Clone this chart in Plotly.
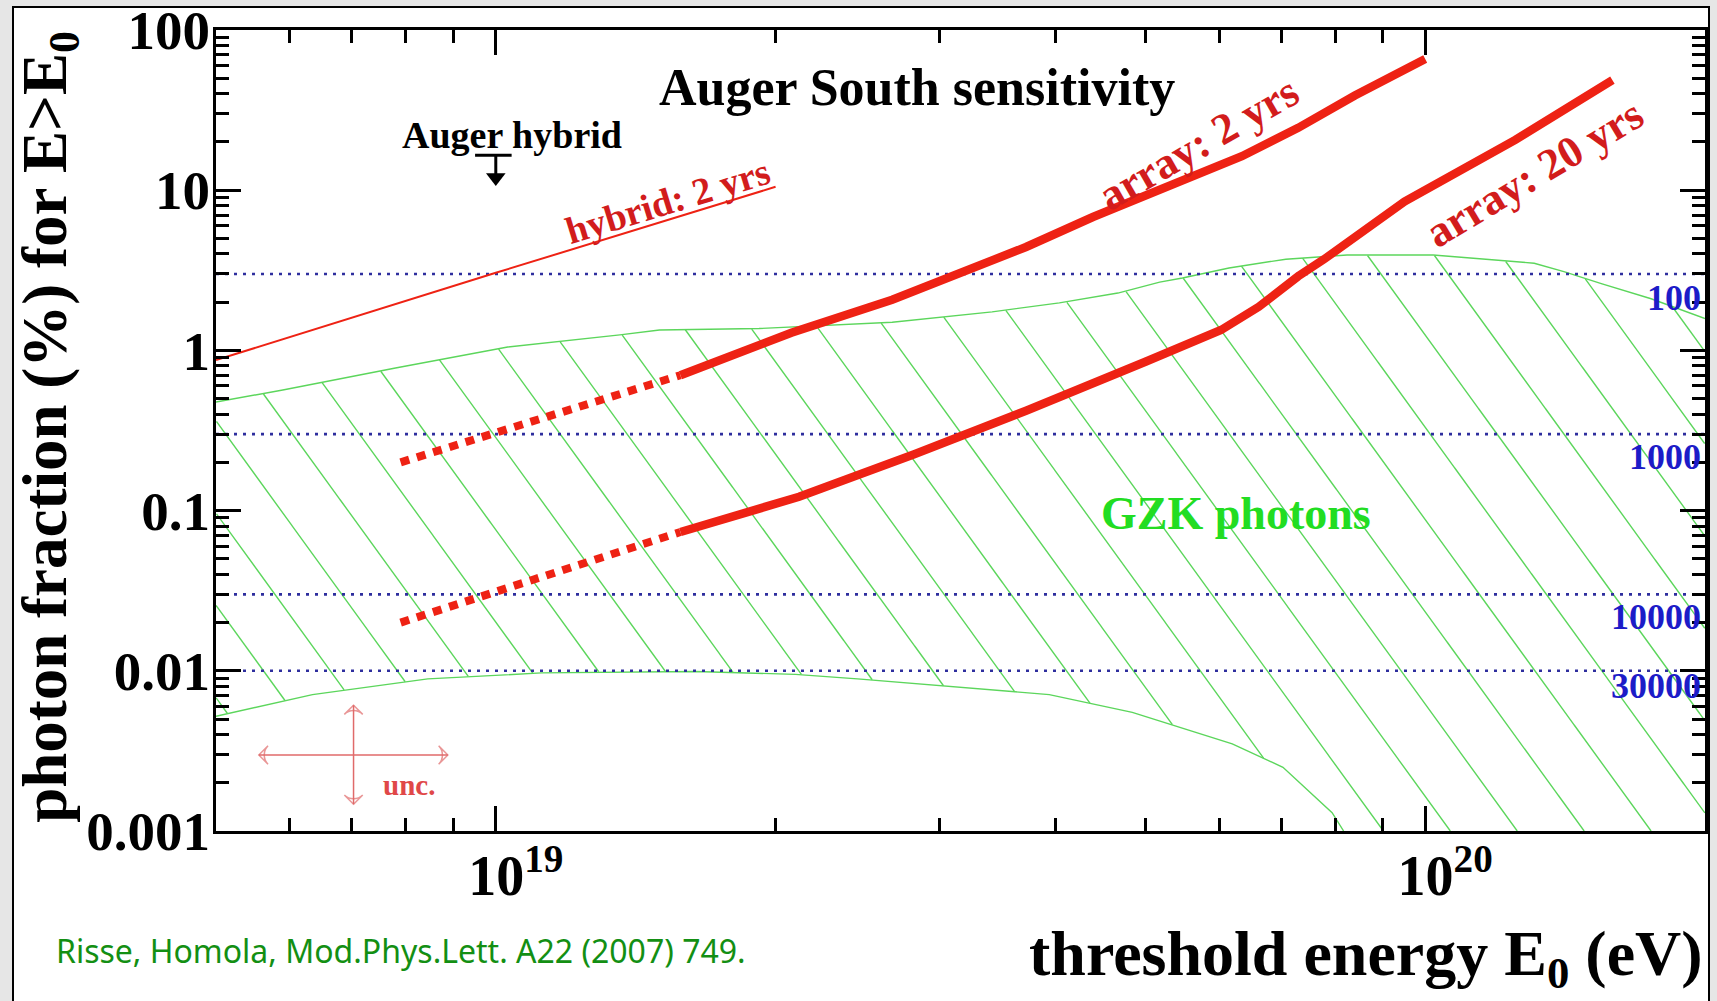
import numpy as np
import plotly.graph_objects as go

# ---------------- data ----------------
E_RANGE = [5e18, 2e20]          # threshold energy (eV)
F_RANGE = [1e-3, 1e2]           # photon fraction (%)

x_major = [1e19, 1e20]
x_major_text = ["10<sup>19</sup>", "10<sup>20</sup>"]
x_minor = [6e18, 7e18, 8e18, 9e18] + [k * 1e19 for k in range(2, 10)]
y_major = [1e-3, 1e-2, 1e-1, 1, 10, 100]
y_major_text = ["0.001", "0.01", "0.1", "1", "10", "100"]
y_minor = [k * 10.0 ** d for d in range(-3, 2) for k in range(2, 10)]

# hybrid: 2 yrs (thin red)
hyb_E = [5e18, 1e19, 2e19]
hyb_F = [0.87, 3.05, 10.5]

# array: 2 yrs
arr2_dot_E = [7.9e18, 1.58e19]
arr2_dot_F = [0.20, 0.70]
arr2_E = [1.58e19, 2.08e19, 2.67e19, 3.15e19, 3.72e19, 4.39e19, 5.45e19, 6.35e19,
          7.3e19, 8.4e19, 1.0e20]
arr2_F = [0.70, 1.29, 2.07, 3.04, 4.42, 6.8, 11.2, 16.3, 24.5, 39, 66]

# array: 20 yrs
arr20_dot_E = [7.9e18, 1.58e19]
arr20_dot_F = [0.020, 0.0735]
arr20_E = [1.58e19, 2.12e19, 2.82e19, 3.72e19, 5.0e19, 6.03e19, 6.62e19, 7.3e19, 7.78e19,
           9.5e19, 1.25e20, 1.59e20]
arr20_F = [0.0735, 0.122, 0.225, 0.42, 0.85, 1.34, 1.87, 2.9, 3.7, 8.5, 20.6, 48.7]

# GZK photon band
gzk_up_E = [5e18, 5.9e18, 7.8e18, 1.03e19, 1.36e19, 1.5e19, 1.92e19, 2.67e19, 3.42e19,
            4.04e19, 4.67e19, 5.18e19, 5.48e19, 6.15e19, 7.08e19, 8.24e19, 1.02e20,
            1.31e20, 1.41e20, 1.55e20, 1.75e20, 2e20]
gzk_up_F = [0.476, 0.566, 0.776, 1.05, 1.25, 1.34, 1.37, 1.50, 1.74, 1.98, 2.28, 2.67,
            2.83, 3.27, 3.71, 3.94, 3.94, 3.5, 3.1, 2.6, 2.1, 1.58]
gzk_lo_E = [5e18, 6.35e18, 8.45e18, 1.12e19, 1.64e19, 2.1e19, 2.45e19, 3.22e19, 3.94e19,
            4.84e19, 6.2e19, 7.03e19, 7.94e19, 8.17e19]
gzk_lo_F = [0.0052, 0.0071, 0.0089, 0.0097, 0.0099, 0.0095, 0.0089, 0.0078, 0.0071,
            0.0055, 0.0035, 0.0025, 0.0013, 0.001]

# reference levels (number of events)
ref_levels = [3, 0.3, 0.03, 0.01]
ref_labels = ["100", "1000", "10000", "30000"]

# Auger hybrid upper limit
hyb_lim_E = 1e19
hyb_lim_F = 16.5
hyb_lim_head = 12.0
hyb_lim_bar_E = [9.5e18, 1.04e19]

# uncertainty cross
unc_E = 7.03e18
unc_F = 0.00298
unc_E_span = [5.56e18, 8.88e18]
unc_F_span = [0.00147, 0.0061]

# ---------------- styling ----------------
SERIF = "Liberation Serif"
RED = "#ee2214"
TXTRED = "#d21c1c"
GREEN = "#5cd65c"
BLUE = "#2e2e9e"
UNC_COL = "#e06a6a"

fig = go.Figure()

# --- GZK hatch (computed from the band boundaries) ---
HATCH_SLOPE = -8.0     # decades of F per decade of E (pixel angle ~54 deg)
HATCH_STEP = 0.072     # decades of E between hatch lines
HATCH_PHASE = 19.955   # log10 E where one line meets the bottom axis
lx_up, ly_up = np.log10(gzk_up_E), np.log10(gzk_up_F)
lx_lo, ly_lo = np.log10(gzk_lo_E), np.log10(gzk_lo_F)
xmin, xmax = np.log10(E_RANGE)
ymin = np.log10(F_RANGE[0])
reach = (ly_up.max() - ymin) / (-HATCH_SLOPE)
hx, hy = [], []
kmin = int(np.floor((xmin - HATCH_PHASE) / HATCH_STEP)) - 1
kmax = int(np.ceil((xmax + reach - HATCH_PHASE) / HATCH_STEP)) + 1
for k in range(kmin, kmax + 1):
    xb = HATCH_PHASE + k * HATCH_STEP
    X = np.linspace(xb - reach - 0.02, xb, 900)
    Y = ymin + HATCH_SLOPE * (X - xb)
    up = np.interp(X, lx_up, ly_up)
    lo = np.interp(X, lx_lo, ly_lo, right=-np.inf)
    inside = (X >= xmin) & (X <= xmax) & (Y <= up) & (Y >= lo)
    prev = False
    for xi, yi, ins in zip(X, Y, inside):
        if ins:
            hx.append(float(10 ** xi))
            hy.append(float(10 ** yi))
        elif prev:
            hx.append(None)
            hy.append(None)
        prev = ins
    hx.append(None)
    hy.append(None)

fig.add_trace(go.Scatter(x=hx, y=hy, mode="lines", connectgaps=False,
                         line=dict(color=GREEN, width=1.4), hoverinfo="skip"))
fig.add_trace(go.Scatter(x=gzk_up_E, y=gzk_up_F, mode="lines",
                         line=dict(color=GREEN, width=1.4), hoverinfo="skip"))
fig.add_trace(go.Scatter(x=gzk_lo_E, y=gzk_lo_F, mode="lines",
                         line=dict(color=GREEN, width=1.4), hoverinfo="skip"))

# --- dotted reference lines ---
rx, ry = [], []
for lv in ref_levels:
    rx += [E_RANGE[0], E_RANGE[1], None]
    ry += [lv, lv, None]
fig.add_trace(go.Scatter(x=rx, y=ry, mode="lines",
                         line=dict(color=BLUE, width=2.6, dash="3px,6px"), hoverinfo="skip"))

# --- sensitivity curves ---
fig.add_trace(go.Scatter(x=hyb_E, y=hyb_F, mode="lines", line=dict(color=RED, width=2)))
fig.add_trace(go.Scatter(x=arr2_dot_E, y=arr2_dot_F, mode="lines",
                         line=dict(color=RED, width=8, dash="9px,8px")))
fig.add_trace(go.Scatter(x=arr2_E, y=arr2_F, mode="lines",
                         line=dict(color=RED, width=8.5)))
fig.add_trace(go.Scatter(x=arr20_dot_E, y=arr20_dot_F, mode="lines",
                         line=dict(color=RED, width=8, dash="9px,8px")))
fig.add_trace(go.Scatter(x=arr20_E, y=arr20_F, mode="lines",
                         line=dict(color=RED, width=8.5)))

# --- Auger hybrid limit: bar, stem and arrow head ---
fig.add_trace(go.Scatter(x=hyb_lim_bar_E + [None, hyb_lim_E, hyb_lim_E],
                         y=[hyb_lim_F, hyb_lim_F, None, hyb_lim_F, hyb_lim_head],
                         mode="lines", line=dict(color="black", width=3)))
fig.add_trace(go.Scatter(x=[hyb_lim_E], y=[hyb_lim_head], mode="markers",
                         marker=dict(symbol="triangle-down", size=17, color="black")))

# --- uncertainty cross (double arrows) ---
cx = [unc_E, unc_E_span[0], None, unc_E, unc_E_span[1], None,
      unc_E, unc_E, None, unc_E, unc_E]
cy = [unc_F, unc_F, None, unc_F, unc_F, None,
      unc_F, unc_F_span[0], None, unc_F, unc_F_span[1]]
csz = [0, 13, 0, 0, 13, 0, 0, 13, 0, 0, 13]
fig.add_trace(go.Scatter(x=cx, y=cy, mode="lines+markers", connectgaps=False,
                         line=dict(color=UNC_COL, width=1.5),
                         marker=dict(symbol="arrow-wide-open", angleref="previous",
                                     size=csz, color=UNC_COL,
                                     line=dict(color=UNC_COL, width=1.5))))

L = np.log10
annotations = []
# text labels in data coordinates: (text, E, F, angle, size, color)
labels = [
    ("Auger South sensitivity", 2.84e19, 43.5, 0, 52, "black"),
    ("Auger hybrid", 1.04e19, 22.1, 0, 38, "black"),
    ("hybrid: 2 yrs", 1.53e19, 8.6, -17, 38, TXTRED),
    ("array: 2 yrs", 5.7e19, 19.7, -30, 44, TXTRED),
    ("array: 20 yrs", 1.31e20, 12.8, -31, 44, TXTRED),
    ("GZK photons", 6.25e19, 0.0966, 0, 46, "#22dd22"),
    ("unc.", 8.07e18, 0.00194, 0, 29, "#e04848"),
]
for t, e, f, ang, sz, col in labels:
    annotations.append(dict(x=L(e), y=L(f), xref="x", yref="y", text=t, showarrow=False,
                            textangle=ang, xanchor="center", yanchor="middle",
                            font=dict(family=SERIF, size=sz, color=col, weight="bold")))

# event-number labels on the right
label_dy = [-24, -23, -23, -15]
for lv, lab, dy in zip(ref_levels, ref_labels, label_dy):
    annotations.append(dict(x=L(E_RANGE[1]), y=L(lv), xref="x", yref="y", text=lab,
                            showarrow=False, xanchor="right", yanchor="middle",
                            xshift=-2, yshift=dy,
                            font=dict(family=SERIF, size=36, color="#1c1cc8", weight="bold")))

# axis titles and citation (paper coordinates)
annotations.append(dict(x=1.0, y=-0.159, xref="paper", yref="paper",
                        text="threshold energy E<sub>0</sub> (eV)", showarrow=False,
                        xanchor="right", yanchor="middle",
                        font=dict(family=SERIF, size=64, color="black", weight="bold")))
annotations.append(dict(x=-0.112, y=0.505, xref="paper", yref="paper",
                        text="photon fraction (%) for E&gt;E<sub>0</sub>", showarrow=False,
                        textangle=-90, xanchor="center", yanchor="middle",
                        font=dict(family=SERIF, size=63, color="black", weight="bold")))
annotations.append(dict(x=-0.109, y=-0.149, xref="paper", yref="paper",
                        text="Risse, Homola, Mod.Phys.Lett. A22 (2007) 749.", showarrow=False,
                        xanchor="left", yanchor="middle",
                        font=dict(family="Noto Sans", size=32, color="#138f13")))

axis_common = dict(showline=True, linewidth=3, linecolor="black", mirror="ticks",
                   ticks="inside", ticklen=25, tickwidth=2.5, tickcolor="black",
                   showgrid=False, zeroline=False, tickmode="array", automargin=False)

fig.update_layout(
    width=1717, height=1001,
    margin=dict(l=216, r=12, t=30, b=170, autoexpand=False),
    paper_bgcolor="#e6e6e6", plot_bgcolor="white",
    showlegend=False,
    xaxis=dict(type="log", range=[L(E_RANGE[0]), L(E_RANGE[1])],
               tickvals=x_major, ticktext=x_major_text,
               ticklabelstandoff=-6, ticklabelshift=20,
               tickfont=dict(family=SERIF, size=56, color="black", weight="bold"),
               minor=dict(tickmode="array", tickvals=x_minor, ticks="inside", ticklen=13,
                          tickwidth=2.5, tickcolor="black", showgrid=False),
               **axis_common),
    yaxis=dict(type="log", range=[L(F_RANGE[0]), L(F_RANGE[1])],
               tickvals=y_major, ticktext=y_major_text, ticklabelstandoff=-8,
               tickfont=dict(family=SERIF, size=55, color="black", weight="bold"),
               minor=dict(tickmode="array", tickvals=y_minor, ticks="inside", ticklen=13,
                          tickwidth=2.5, tickcolor="black", showgrid=False),
               **axis_common),
    annotations=annotations,
    shapes=[dict(type="rect", xref="paper", yref="paper",
                 x0=(13 - 216) / 1489, x1=(1709 - 216) / 1489,
                 y0=-0.3, y1=(831 - 7) / 801,
                 line=dict(color="black", width=2), fillcolor="white", layer="below")],
)

fig.write_html("out.html")
